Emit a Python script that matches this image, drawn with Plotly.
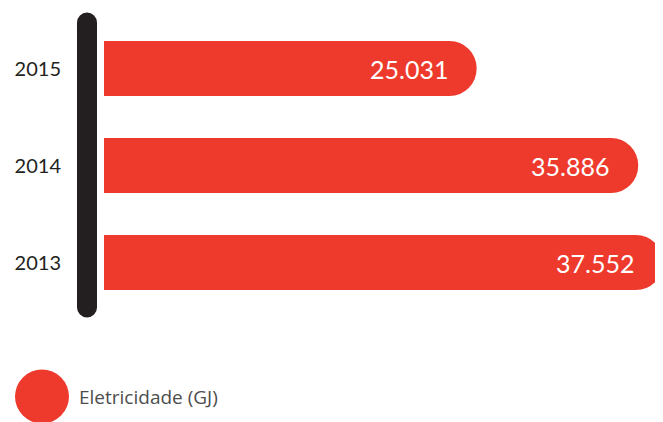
import plotly.graph_objects as go

years = ["2013", "2014", "2015"]
electricity_gj = [37552, 35886, 25031]
legend_label = "Eletricidade (GJ)"

red = "#EE3A2D"
dark = "#231F20"

fig = go.Figure()
fig.add_trace(go.Bar(
    y=years,
    x=electricity_gj,
    orientation="h",
    width=0.567,
    marker=dict(color=red, cornerradius="50%", line=dict(width=0)),
    hoverinfo="skip",
    showlegend=False,
))

# value labels sit a bit inside the rounded end (category axis -> index positions)
for i, v in enumerate(electricity_gj):
    fig.add_annotation(x=v, y=i, text=f"{v:,}".replace(",", "."),
                       xanchor="right", yanchor="middle", xshift=-27,
                       showarrow=False, font=dict(color="white", size=25, family="Lato"))

# dark rounded axis bar on the left (pixel sized, anchored at x=0 / plot bottom)
axis_bar = dict(xref="paper", yref="paper", xsizemode="pixel", ysizemode="pixel",
                xanchor=0, yanchor=0, fillcolor=dark, line=dict(width=0), layer="above")
fig.add_shape(type="rect", x0=-27, x1=-7, y0=3.5, y1=288.5, **axis_bar)
fig.add_shape(type="circle", x0=-27, x1=-7, y0=-6.5, y1=13.5, **axis_bar)
fig.add_shape(type="circle", x0=-27, x1=-7, y0=278.5, y1=298.5, **axis_bar)

# legend: big red dot + label
fig.add_shape(type="circle", xref="paper", yref="paper", xsizemode="pixel", ysizemode="pixel",
              xanchor=0, yanchor=0, x0=-89, x1=-35, y0=-112.5, y1=-58.5,
              fillcolor=red, line=dict(width=0))
fig.add_annotation(text=legend_label, xref="paper", yref="paper", x=0, y=0,
                   xanchor="left", yanchor="middle", xshift=-27, yshift=-85.5,
                   showarrow=False, font=dict(size=19, color="#4D4D4D", family="Open Sans"))

# page body has an 8px margin, so the figure is 8px smaller than the window
fig.update_layout(
    width=655, height=414,
    margin=dict(l=96, r=0, t=12, b=111),
    paper_bgcolor="white", plot_bgcolor="white",
    xaxis=dict(range=[0, 37552], visible=False, fixedrange=True),
    yaxis=dict(type="category", categoryorder="array", categoryarray=years, range=[-0.5, 2.5],
               showgrid=False, zeroline=False, showline=False, ticks="",
               ticklabelstandoff=42,
               tickfont=dict(size=20, color=dark, family="Lato")),
    font=dict(family="Lato"),
)

fig.write_html("out.html")
